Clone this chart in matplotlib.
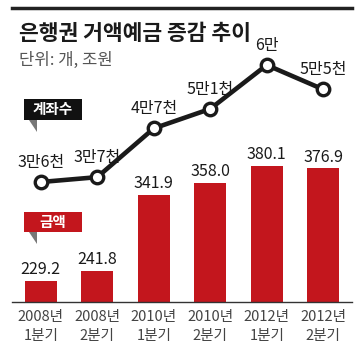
import matplotlib
matplotlib.use("Agg")

import matplotlib.pyplot as plt
from matplotlib.patches import Rectangle, Polygon
from matplotlib.lines import Line2D

plt.rcParams["font.family"] = ["Noto Sans CJK KR", "DejaVu Sans"]

# 데이터
periods = ["2008년\n1분기", "2008년\n2분기", "2010년\n1분기", "2010년\n2분기", "2012년\n1분기", "2012년\n2분기"]
amount = [229.2, 241.8, 341.9, 358.0, 380.1, 376.9]            # 금액 (조원)
accounts = [36000, 37000, 47000, 51000, 60000, 55000]          # 계좌수 (개)
account_labels = ["3만6천", "3만7천", "4만7천", "5만1천", "6만", "5만5천"]

RED = "#C3161D"
W, H = 361, 362


def px(x, y):
    # 픽셀 좌표 -> figure 좌표
    return x / W, 1 - y / H


fig = plt.figure(figsize=(W / 100, H / 100), dpi=100)
ax = fig.add_axes([12 / W, 60 / H, 340 / W, 262 / H])

x = range(len(amount))
ax.bar(x, amount, width=0.57, color=RED, zorder=2)
for xi, v in zip(x, amount):
    ax.annotate(f"{v:.1f}", xy=(xi, v), xytext=(0, 2), textcoords="offset points",
                ha="center", va="bottom", fontsize=11.5, color="#1a1a1a")

ax.set_xlim(-0.51, 5.51)
ax.set_ylim(201.2, 545.9)
for s in ["top", "right", "left"]:
    ax.spines[s].set_visible(False)
ax.spines["bottom"].set_color("#333333")
ax.spines["bottom"].set_linewidth(1.0)
ax.set_yticks([])
ax.set_xticks(list(x))
ax.set_xticklabels(periods, fontsize=10.5, color="#444444", linespacing=1.4)
ax.tick_params(axis="x", length=0, pad=6)

# 계좌수 꺾은선
ax2 = ax.twinx()
ax2.set_ylim(11390, 65130)
ax2.set_axis_off()
ax2.plot(list(x), accounts, color="#1a1a1a", linewidth=3.3, marker="o", markersize=9,
         markerfacecolor="white", markeredgecolor="#1a1a1a", markeredgewidth=2.4, zorder=3)
for xi, v, lab in zip(x, accounts, account_labels):
    ax2.annotate(lab, xy=(xi, v), xytext=(0, 8), textcoords="offset points",
                 ha="center", va="bottom", fontsize=11.5, color="#1a1a1a")

# 제목
fig.add_artist(Line2D([12 / W, 352 / W], [1 - 8 / H, 1 - 8 / H], color="#222222", linewidth=2.5))
fig.text(*px(19, 33), "은행권 거액예금 증감 추이", fontsize=15.5, fontweight="bold",
         color="#1a1a1a", ha="left", va="center")
fig.text(*px(19, 60), "단위: 개, 조원", fontsize=12, color="#555555", ha="left", va="center")

# 범례 박스
for (y0, y1), fc, lab in [((99, 120), "#111111", "계좌수"), ((212, 232), RED, "금액")]:
    bx, by = px(24, y1)
    fig.add_artist(Rectangle((bx, by), 58 / W, (y1 - y0) / H, facecolor=fc,
                             edgecolor="none", transform=fig.transFigure))
    fig.add_artist(Polygon([px(29, y1), px(37, y1), px(37, y1 + 12)], closed=True,
                           facecolor="#777777", edgecolor="none", transform=fig.transFigure))
    fig.text(*px(53, (y0 + y1) / 2), lab, fontsize=10.5, fontweight="bold", color="white",
             ha="center", va="center")

plt.savefig("out.png", dpi=100)
plt.close()
